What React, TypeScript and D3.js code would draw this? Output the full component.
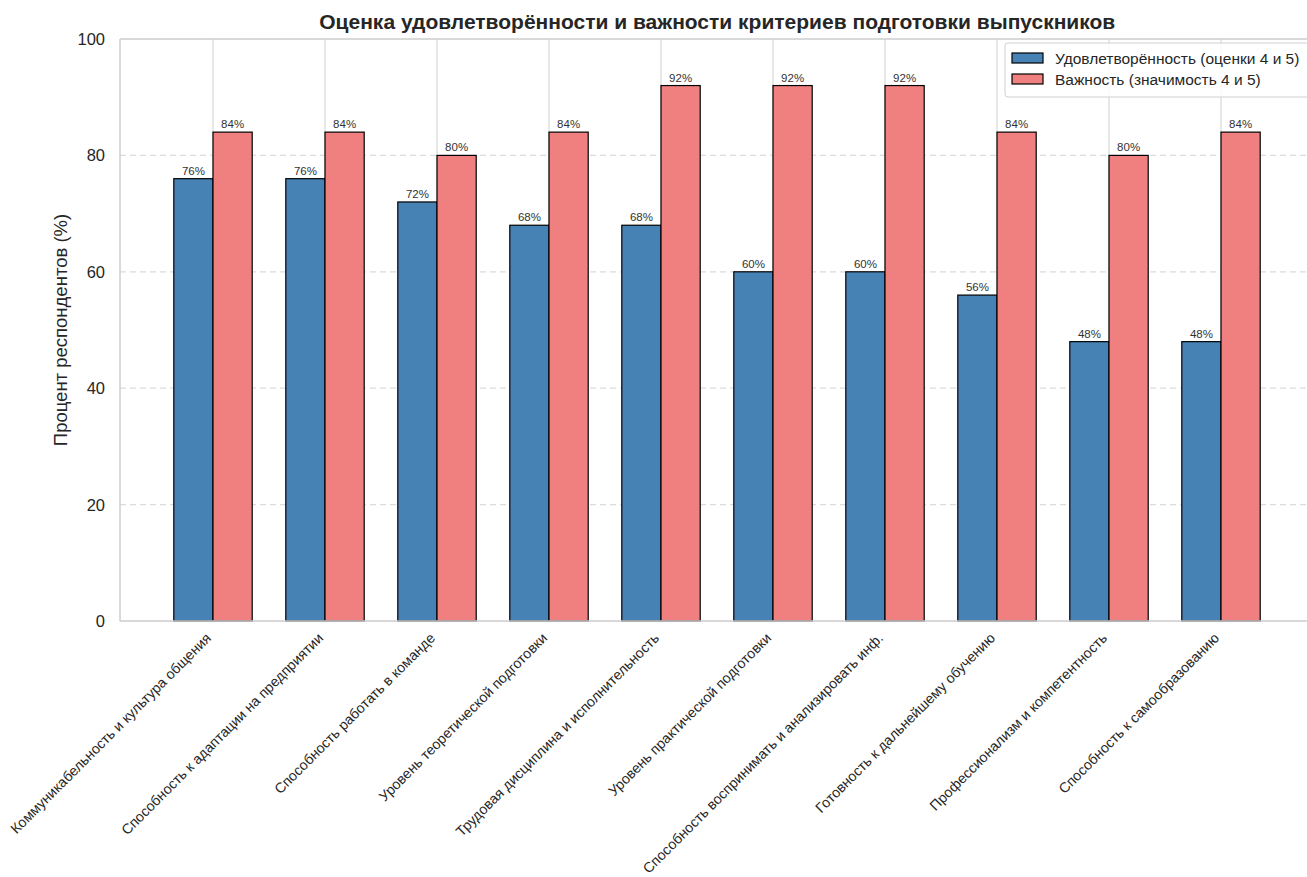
import * as d3 from "d3";

const categories = [
	"Коммуникабельность и культура общения",
	"Способность к адаптации на предприятии",
	"Способность работать в команде",
	"Уровень теоретической подготовки",
	"Трудовая дисциплина и исполнительность",
	"Уровень практической подготовки",
	"Способность воспринимать и анализировать инф.",
	"Готовность к дальнейшему обучению",
	"Профессионализм и компетентность",
	"Способность к самообразованию",
];
const satisfaction = [76, 76, 72, 68, 68, 60, 60, 56, 48, 48];
const importance = [84, 84, 80, 84, 92, 92, 92, 84, 80, 84];
const seriesNames = ["Удовлетворённость (оценки 4 и 5)", "Важность (значимость 4 и 5)"];
const seriesColors = ["#4682B4", "#F08080"];
const yTicks = [0, 20, 40, 60, 80, 100];

const W = 1307;
const H = 877;
const FONT = "'Liberation Sans', Arial, sans-serif";

function App() {
	const barW = 0.35;
	const left = 120;
	const top = 39;
	const bottom = 621;
	const x = d3.scaleLinear().domain([0, categories.length - 1]).range([213, 1221]);
	const right = x(categories.length - 1 + barW + 0.485);
	const y = d3.scaleLinear().domain([0, 100]).range([bottom, top]);
	const bw = x(barW) - x(0);
	const series = [satisfaction, importance];

	return (
		<svg
			width={W}
			height={H}
			style={{ position: "absolute", left: 0, top: 0, background: "#fff" }}
			fontFamily={FONT}
		>
			{/* grid */}
			{yTicks.slice(1, -1).map((t) => (
				<line
					key={t}
					x1={left}
					x2={right}
					y1={y(t)}
					y2={y(t)}
					stroke="#dcdcdc"
					strokeWidth={1.2}
					strokeDasharray="6,4"
				/>
			))}
			{categories.map((c, i) => (
				<line key={c} x1={x(i)} x2={x(i)} y1={top} y2={bottom} stroke="#d4d4d4" strokeWidth={1.1} />
			))}

			{/* bars */}
			{series.map((vals, s) =>
				vals.map((v, i) => {
					const x0 = s === 0 ? x(i) - bw : x(i);
					return (
						<g key={`${s}-${i}`}>
							<rect
								x={x0}
								y={y(v)}
								width={bw}
								height={y(0) - y(v)}
								fill={seriesColors[s]}
								stroke="#000"
								strokeWidth={1.2}
							/>
							<text
								x={x0 + bw / 2}
								y={y(v) - 4}
								textAnchor="middle"
								fontSize={11.5}
								fill="#333"
							>
								{v}%
							</text>
						</g>
					);
				})
			)}

			{/* spines */}
			<line x1={left} x2={right} y1={top} y2={top} stroke="#cccccc" strokeWidth={1.5} />
			<line x1={left} x2={right} y1={bottom} y2={bottom} stroke="#cccccc" strokeWidth={1.5} />
			<line x1={left} x2={left} y1={top} y2={bottom} stroke="#cccccc" strokeWidth={1.5} />

			{/* y ticks */}
			{yTicks.map((t) => (
				<text key={t} x={105} y={y(t) + 6} textAnchor="end" fontSize={16.5} fill="#262626">
					{t}
				</text>
			))}
			<text
				transform={`translate(67, ${(top + bottom) / 2}) rotate(-90)`}
				textAnchor="middle"
				fontSize={18.5}
				fill="#262626"
			>
				Процент респондентов (%)
			</text>

			{/* x labels */}
			{categories.map((c, i) => (
				<text
					key={c}
					transform={`translate(${x(i) - 1}, 639) rotate(-45)`}
					textAnchor="end"
					fontSize={14.2}
					fill="#262626"
				>
					{c}
				</text>
			))}

			{/* title */}
			<text
				x={(left + right) / 2}
				y={29}
				textAnchor="middle"
				fontSize={21}
				fontWeight="bold"
				fill="#262626"
			>
				Оценка удовлетворённости и важности критериев подготовки выпускников
			</text>

			{/* legend */}
			<rect x={1005} y={43} width={320} height={54} rx={3} fill="#fff" fillOpacity={0.85} stroke="#d0d0d0" />
			{seriesNames.map((n, s) => (
				<g key={n}>
					<rect
						x={1012}
						y={53 + s * 21}
						width={31}
						height={10}
						fill={seriesColors[s]}
						stroke="#000"
						strokeWidth={1.2}
					/>
					<text x={1055} y={64 + s * 21} fontSize={15.5} fill="#262626">
						{n}
					</text>
				</g>
			))}
		</svg>
	);
}

export default App;
